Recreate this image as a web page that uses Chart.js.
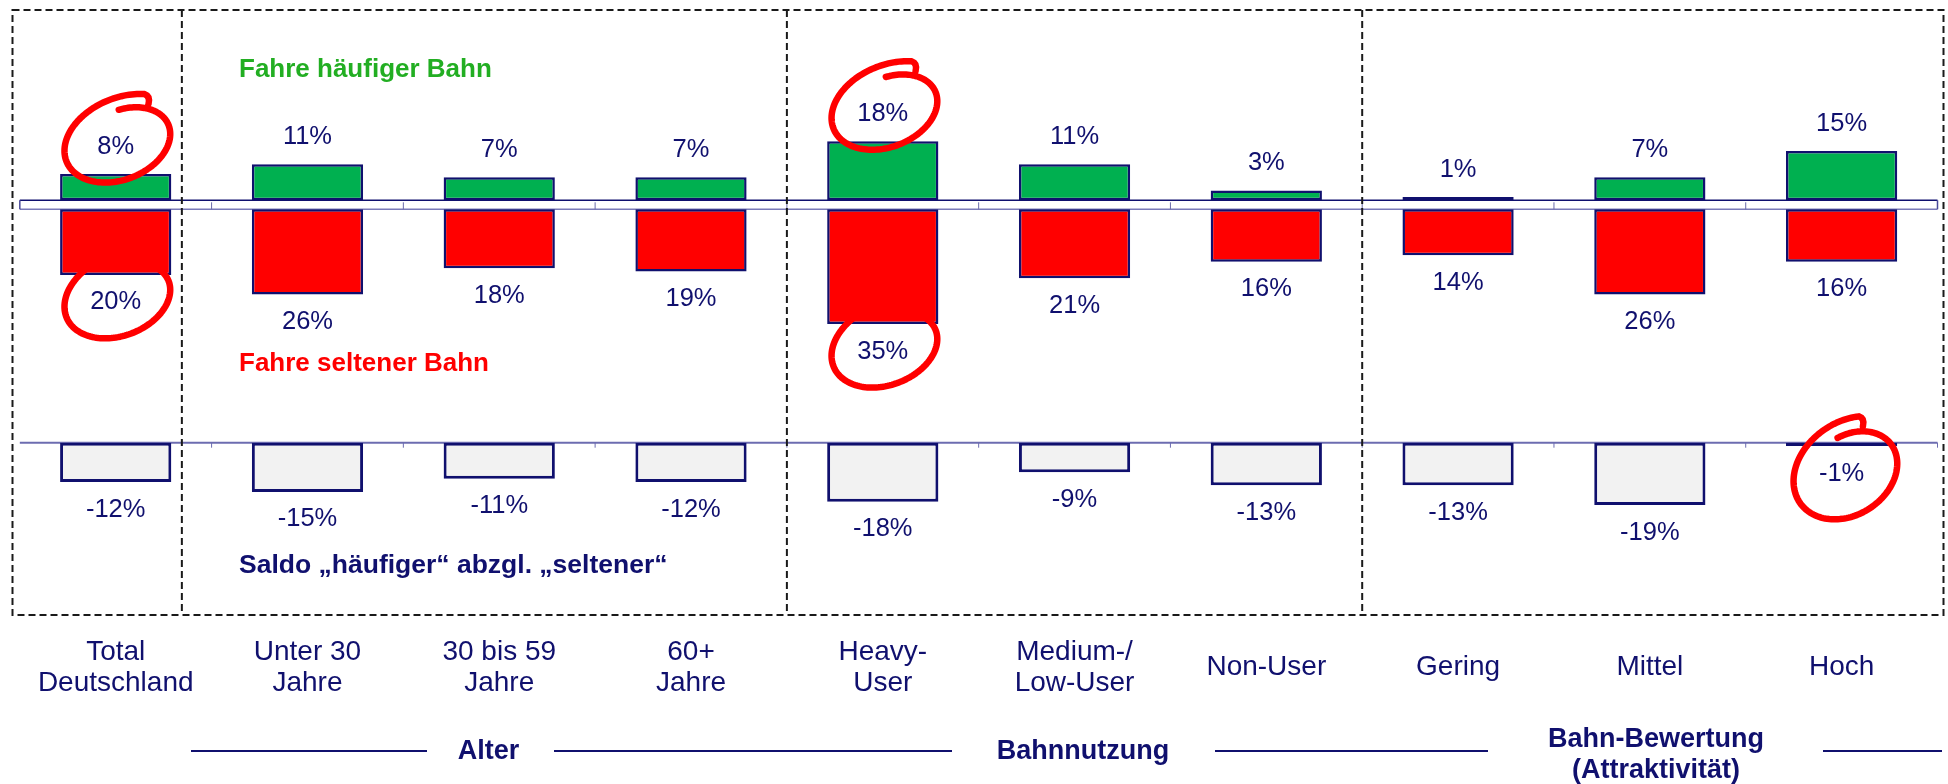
<!DOCTYPE html>
<html><head><meta charset="utf-8">
<script src="https://cdn.jsdelivr.net/npm/chart.js@4.4.0/dist/chart.umd.min.js"></script>
<style>html,body{margin:0;padding:0;background:#fff;overflow:hidden}#wrap{position:relative;width:1948px;height:784px}</style>
</head><body><div id="wrap"><canvas id="c" width="1948" height="784"></canvas></div>
<script>
// ---- data ----
const categories = [["Total","Deutschland"],["Unter 30","Jahre"],["30 bis 59","Jahre"],["60+","Jahre"],["Heavy-","User"],["Medium-/","Low-User"],"Non-User","Gering","Mittel","Hoch"];
const haeufiger = [8,11,7,7,18,11,3,1,7,15];
const seltener = [20,26,18,19,35,21,16,14,26,16];
const saldo = [-12,-15,-11,-12,-18,-9,-13,-13,-19,-1];
const seriesLabels = ["Fahre häufiger Bahn","Fahre seltener Bahn","Saldo „häufiger“ abzgl. „seltener“"];
const groupLabels = [["Alter"],["Bahnnutzung"],["Bahn-Bewertung","(Attraktivität)"]];
const circled = [[0,0],[1,0],[0,4],[1,4],[2,9]];

// ---- layout / style ----
const FONT = "'Liberation Sans', Arial, Helvetica, sans-serif";
const NAVY = '#10106E';
const PX = 3.28;              // pixels per percentage point
const AREA_BOTTOM = 615;
const Z_UP = 200.3, Z_DOWN = 209.3, Z_SALDO = 442.7;
const LABEL_OFF = 27.5;

const decor = {
  id: 'decor',
  beforeDatasetsDraw(chart) {
    const ctx = chart.ctx, ca = chart.chartArea, xs = chart.scales.x;
    const yTop = chart.scales.yG.getPixelForValue(0);
    const yBot = chart.scales.yR.getPixelForValue(0);
    const yS = chart.scales.yS.getPixelForValue(0);
    const n = categories.length;
    const step = (xs.getPixelForValue(1) - xs.getPixelForValue(0));
    ctx.save();
    // upper strip
    ctx.fillStyle = '#fff';
    ctx.fillRect(ca.left, yTop, ca.right - ca.left, yBot - yTop);
    ctx.lineWidth = 1.5;
    ctx.strokeStyle = NAVY;
    ctx.beginPath(); ctx.moveTo(ca.left, yTop); ctx.lineTo(ca.right, yTop); ctx.stroke();
    ctx.strokeStyle = '#7a7ab8';
    ctx.beginPath(); ctx.moveTo(ca.left, yBot); ctx.lineTo(ca.right, yBot); ctx.stroke();
    ctx.strokeStyle = '#4a4a9a';
    ctx.beginPath(); ctx.moveTo(ca.left, yTop); ctx.lineTo(ca.left, yBot);
    ctx.moveTo(ca.right, yTop); ctx.lineTo(ca.right, yBot); ctx.stroke();
    ctx.lineWidth = 1;
    ctx.strokeStyle = '#6a6aaa';
    for (let i = 1; i < n; i++) {
      const bx = xs.getPixelForValue(i) - step / 2;
      ctx.beginPath(); ctx.moveTo(bx, yTop + 2); ctx.lineTo(bx, yBot); ctx.stroke();
    }
    // saldo base line
    ctx.lineWidth = 2;
    ctx.strokeStyle = '#6c6cb0';
    ctx.beginPath(); ctx.moveTo(ca.left, yS); ctx.lineTo(ca.right, yS); ctx.stroke();
    ctx.lineWidth = 1;
    for (let i = 1; i <= n; i++) {
      const bx = Math.min(xs.getPixelForValue(i) - step / 2, ca.right);
      ctx.beginPath(); ctx.moveTo(bx, yS); ctx.lineTo(bx, yS + 5); ctx.stroke();
    }
    ctx.restore();
  },
  afterDatasetsDraw(chart) {
    const ctx = chart.ctx, xs = chart.scales.x;
    ctx.save();
    // dashed frames
    const step = (xs.getPixelForValue(1) - xs.getPixelForValue(0));
    const x0 = xs.getPixelForValue(0);
    const at = v => x0 + v * step;
    ctx.strokeStyle = '#1a1a1a';
    ctx.lineWidth = 2;
    ctx.setLineDash([7, 4]);
    ctx.strokeRect(12.5, 10, 1931, 605);
    [0.345, 3.5, 6.5].forEach(v => {
      ctx.beginPath(); ctx.moveTo(at(v), 10); ctx.lineTo(at(v), 615); ctx.stroke();
    });
    ctx.setLineDash([]);

    // value labels
    ctx.font = '25.5px ' + FONT;
    ctx.fillStyle = NAVY;
    ctx.textAlign = 'center';
    ctx.textBaseline = 'middle';
    const sets = [haeufiger, seltener, saldo];
    const labelPos = [];
    sets.forEach((vals, d) => {
      const meta = chart.getDatasetMeta(d);
      labelPos[d] = [];
      meta.data.forEach((bar, i) => {
        const p = bar.getProps(['x', 'y'], true);
        const ly = d === 0 ? p.y - LABEL_OFF : p.y + LABEL_OFF;
        labelPos[d][i] = [p.x, ly];
        ctx.fillText(vals[i] + '%', p.x, ly);
      });
    });

    // series annotations
    ctx.textAlign = 'left';
    ctx.font = 'bold 26px ' + FONT;
    ctx.fillStyle = '#22AE22';
    ctx.fillText(seriesLabels[0], 239, 70);
    ctx.fillStyle = '#FF0000';
    ctx.fillText(seriesLabels[1], 239, 364);
    ctx.fillStyle = NAVY;
    ctx.font = 'bold 26.5px ' + FONT;
    ctx.fillText(seriesLabels[2], 239, 566);

    // group labels with rules
    ctx.textAlign = 'center';
    ctx.font = 'bold 27px ' + FONT;
    ctx.fillText(groupLabels[0][0], 488.5, 752);
    ctx.fillText(groupLabels[1][0], 1083, 752);
    ctx.fillText(groupLabels[2][0], 1656, 740);
    ctx.fillText(groupLabels[2][1], 1656, 771);
    ctx.strokeStyle = NAVY;
    ctx.lineWidth = 2;
    [[191, 427], [554, 952], [1215, 1488], [1823, 1942]].forEach(([a, b]) => {
      ctx.beginPath(); ctx.moveTo(a, 751); ctx.lineTo(b, 751); ctx.stroke();
    });

    // hand-drawn red circles
    ctx.strokeStyle = '#FF0000';
    ctx.lineWidth = 6.5;
    ctx.lineCap = 'round';
    ctx.lineJoin = 'round';
    circled.forEach(([d, i]) => {
      const [lx, ly] = labelPos[d][i];
      const big = d === 2;
      const cx = lx + (big ? 8 : 6), cy = ly - (big ? 2 : 5);
      const rx = 57, ry = big ? 44 : 39, rot = big ? -0.6 : -0.38;
      const a0 = -Math.PI / 2 + 0.2, sweep = Math.PI * 2 * 1.07;
      const pt = (a, s) => {
        const ex = rx * s * Math.cos(a), ey = ry * s * Math.sin(a);
        return [cx + ex * Math.cos(rot) - ey * Math.sin(rot), cy + ex * Math.sin(rot) + ey * Math.cos(rot)];
      };
      ctx.beginPath();
      const N = 160;
      let last;
      for (let k = 0; k <= N; k++) {
        const t = k / N, a = a0 + sweep * t, s = 0.80 + 0.34 * t;
        last = pt(a, s);
        if (k === 0) ctx.moveTo(last[0], last[1]); else ctx.lineTo(last[0], last[1]);
      }
      // small hook at the end of the stroke
      ctx.quadraticCurveTo(last[0] + 6, last[1] + 2, last[0] + 4, last[1] + 10);
      ctx.stroke();
    });
    ctx.restore();
  }
};

const barCommon = {
  grouped: false,
  categoryPercentage: 1,
  barPercentage: 0.58,
  borderColor: NAVY,
  borderSkipped: false
};

new Chart(document.getElementById('c'), {
  type: 'bar',
  data: {
    labels: categories,
    datasets: [
      Object.assign({ label: seriesLabels[0], data: haeufiger, yAxisID: 'yG', backgroundColor: '#00B050', borderWidth: 2.5 }, barCommon),
      Object.assign({ label: seriesLabels[1], data: seltener, yAxisID: 'yR', backgroundColor: '#FF0000', borderWidth: 2.5 }, barCommon),
      Object.assign({ label: seriesLabels[2], data: saldo, yAxisID: 'yS', backgroundColor: '#F2F2F2', borderWidth: 3 }, barCommon)
    ]
  },
  options: {
    responsive: false,
    animation: false,
    devicePixelRatio: 1,
    layout: { padding: { left: 17.5, right: 10.5, top: 0, bottom: 0 } },
    plugins: { legend: { display: false }, tooltip: { enabled: false } },
    scales: {
      x: {
        type: 'category',
        offset: true,
        grid: { display: false, drawTicks: false },
        border: { display: false },
        ticks: {
          color: NAVY, font: { family: FONT, size: 28, lineHeight: 1.1 },
          padding: 37, crossAlign: 'center', maxRotation: 0, autoSkip: false
        },
        afterFit(s) { s.height = 784 - AREA_BOTTOM; }
      },
      yG: { display: false, min: -(AREA_BOTTOM - Z_UP) / PX, max: Z_UP / PX },
      yR: { display: false, reverse: true, min: -Z_DOWN / PX, max: (AREA_BOTTOM - Z_DOWN) / PX },
      yS: { display: false, min: -(AREA_BOTTOM - Z_SALDO) / PX, max: Z_SALDO / PX }
    }
  },
  plugins: [decor]
});
</script>
</body></html>
